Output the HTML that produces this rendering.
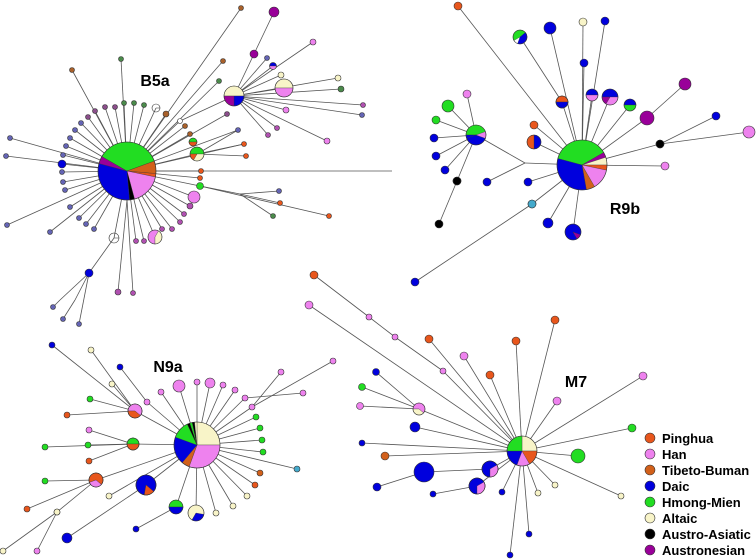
<!DOCTYPE html>
<html><head><meta charset="utf-8"><style>
html,body{margin:0;padding:0;background:#fff;width:756px;height:559px;overflow:hidden}
svg{display:block}
.t{font-family:"Liberation Sans",sans-serif;font-weight:bold;fill:#000}
</style></head><body>
<svg id="s" width="756" height="559" viewBox="0 0 756 559" xmlns="http://www.w3.org/2000/svg">
<g id="E" stroke="#555" stroke-width="0.8" fill="none"></g>
<g id="N" stroke="#333" stroke-width="0.6"></g>
<text class="t" x="155" y="86" font-size="16" text-anchor="middle">B5a</text>
<text class="t" x="625" y="214" font-size="16" text-anchor="middle">R9b</text>
<text class="t" x="168" y="372" font-size="16" text-anchor="middle">N9a</text>
<text class="t" x="576" y="387" font-size="16" text-anchor="middle">M7</text>
<g class="t" font-size="13">
<circle cx="650" cy="438" r="5" fill="#e8561c" stroke="#333" stroke-width="0.6"/><text x="662" y="443">Pinghua</text>
<circle cx="650" cy="454" r="5" fill="#ee82ee" stroke="#333" stroke-width="0.6"/><text x="662" y="459">Han</text>
<circle cx="650" cy="470" r="5" fill="#d2601a" stroke="#333" stroke-width="0.6"/><text x="662" y="475">Tibeto-Buman</text>
<circle cx="650" cy="486" r="5" fill="#0000dd" stroke="#333" stroke-width="0.6"/><text x="662" y="491">Daic</text>
<circle cx="650" cy="502" r="5" fill="#22dd22" stroke="#333" stroke-width="0.6"/><text x="662" y="507">Hmong-Mien</text>
<circle cx="650" cy="518" r="5" fill="#f8f4c8" stroke="#333" stroke-width="0.6"/><text x="662" y="523">Altaic</text>
<circle cx="650" cy="534" r="5" fill="#000" stroke="#333" stroke-width="0.6"/><text x="662" y="539">Austro-Asiatic</text>
<circle cx="650" cy="550" r="5" fill="#990099" stroke="#333" stroke-width="0.6"/><text x="662" y="555">Austronesian</text>
</g>
</svg>
<script>
var C={P:'#e8561c',H:'#ee82ee',T:'#d2601a',D:'#0000dd',M:'#22dd22',L:'#f8f4c8',A:'#000',U:'#990099',C:'#44aacc',
b:'#6464b4',p:'#8a4e8a',g:'#4a8a4a',o:'#a8602a',v:'#b050b0',pk:'#e070d0'};
var E=document.getElementById('E'),N=document.getElementById('N'),NS='http://www.w3.org/2000/svg';
function el(p,t,a){var e=document.createElementNS(NS,t);for(var k in a)e.setAttribute(k,a[k]);p.appendChild(e);return e;}
function L(a,b,c,d){el(E,'line',{x1:a,y1:b,x2:c,y2:d});}
function n(x,y,r,c){if(typeof c=='string'){el(N,'circle',{cx:x,cy:y,r:r,fill:C[c]||c});return;}
 // pie: array of [col,startDeg,endDeg]
 c.forEach(function(s){var a0=s[1]*Math.PI/180,a1=s[2]*Math.PI/180;
 var d='M'+x+','+y+'L'+(x+r*Math.cos(a0))+','+(y+r*Math.sin(a0))+'A'+r+','+r+' 0 '+((s[2]-s[1])>180?1:0)+' 1 '+(x+r*Math.cos(a1))+','+(y+r*Math.sin(a1))+'Z';
 el(N,'path',{d:d,fill:C[s[0]],'stroke-width':0.3});});
 el(N,'circle',{cx:x,cy:y,r:r,fill:'none'});}
function star(cx,cy,list){list.forEach(function(q){L(cx,cy,q[0],q[1]);});list.forEach(function(q){n(q[0],q[1],q[2],q[3]);});}
// ---------- B5a ----------
var bx=127,by=171;
L(bx,by,392,171);
star(bx,by,[[95,111,2.5,'p'],[105,107,2.5,'p'],[115,107,2.5,'p'],[124,103,2.5,'g'],[134,103,2.5,'g'],[144,105,2.5,'g'],[156,108,4,[['M',0,360]]],[166,114,3,'o'],[185,126,2.5,'o'],[190,134,2.5,'o'],
[88,117,2.5,'p'],[81,123,2.5,'b'],[75,130,2.5,'b'],[70,138,2.5,'b'],[66,146,2.5,'b'],[63,155,2.5,'b'],[62,164,4,'D'],[62,172,2.5,'b'],[63,182,2.5,'b'],[65,190,2.5,'b'],[70,207,2.5,'b'],[79,218,2.5,'b'],[86,224,2.5,'b'],[94,229,2.5,'b'],[136,241,2.5,'v'],[144,241,2.5,'v'],
[162,229,2.5,'v'],[172,229,2.5,'v'],[180,222,2.5,'v'],[184,214,2.5,'v'],[190,206,3,'v'],[194,197,6,'H'],[200,178,2.5,'P'],[201,171,2.5,'P'],
[10,138,2.5,'b'],[6,156,2.5,'b'],[7,225,2.5,'b'],[50,232,2.5,'b'],[241,8,2.5,'o'],[223,61,2.5,'o'],[219,81,2.5,'g'],[121,59,2.5,'g'],[72,70,2.5,'o'],[227,114,2.5,'p'],[238,130,2.5,'b'],[244,144,2.5,'P']]);
L(bx,by,155,237);L(155,237,153,232);n(155,237,7,[['H',90,300],['L',300,450]]);
L(bx,by,114,238);L(114,238,89,273);L(89,273,60,300);L(89,273,75,300);L(89,273,79,324);
L(60,300,53,307);L(75,300,63,319);n(114,238,5,[['D',0,360]]);n(89,273,4,'D');n(53,307,2.5,'b');n(63,319,2.5,'b');n(79,324,2.5,'b');
L(127,200,118,292);L(127,200,133,293);n(118,292,3,'v');n(133,293,2.5,'v');
L(bx,by,180,121);L(180,121,234,96);n(180,121,2.5,'#fff');
n(193,142,4,[['M',180,360],['P',0,180]]);
L(bx,by,197,154);L(197,154,238,130);L(197,154,244,144);L(197,154,246,156);
n(197,154,7,[['M',180,360],['L',0,120],['P',120,180]]);n(246,156,2.5,'P');
L(bx,by,200,186);L(200,186,240,194);L(240,194,279,191);L(240,194,280,203);L(240,194,273,216);L(200,186,329,216);
n(200,186,3.5,'M');n(279,191,2.5,'b');n(280,203,2.5,'P');n(273,216,2.5,'g');n(329,216,2.5,'P');
// satellite cluster
star(234,96,[[254,54,4,'U'],[267,58,2.5,'b'],[273,66,3.5,[['D',180,360],['H',0,180]]],[281,75,3,'L'],[338,78,3,'L'],[341,89,3,'g'],[363,105,2.5,'v'],[362,115,2.5,'b'],[286,110,3,'H'],[277,128,2.5,'v'],[268,135,2.5,'v'],[327,141,3,'H'],[313,42,3,'H']]);
L(254,54,274,12);n(274,12,5,'U');
L(234,96,284,88);n(284,88,9,[['L',180,360],['H',0,180]]);
n(234,96,10,[['L',180,360],['D',0,90],['U',90,180]]);
n(bx,by,29,[['P',5,12],['H',12,75],['A',75,85],['D',85,195],['U',195,210],['M',210,340],['T',340,365]]);
// ---------- R9b ----------
var rx=582,ry=165;
star(rx,ry,[[458,6,4,'P'],[562,102,6,[['P',180,360],['D',0,180]]],[550,28,6,'D'],[584,63,4,'D'],[583,22,4,'L'],[605,21,4,'D'],[592,95,6,[['D',180,360],['H',0,180]]],[610,97,8,[['D',180,360],['H',0,120],['U',120,180]]],[630,105,6,[['D',180,360],['M',0,180]]],[647,118,7,'U'],[660,144,4,'A'],[665,166,4,'H'],[534,142,7,[['D',270,450],['P',90,270]]],[534,125,4,'P'],[528,182,4,'D'],[548,223,5,'D'],[573,232,8,[['D',60,400],['U',20,60]]],[532,204,4,'C']]);
L(562,102,520,37);n(520,37,7,[['M',150,400],['D',-40,110]]);n(562,102,6,[['P',180,360],['D',0,180]]);
L(647,118,685,84);n(685,84,6,'U');
L(660,144,716,116);L(660,144,749,132);n(716,116,4,'D');n(749,132,6,'H');n(660,144,4,'A');
L(532,204,415,282);n(415,282,4,'D');n(532,204,4,'C');
L(rx,ry,525,163);L(525,163,487,182);L(525,163,476,135);n(487,182,4,'D');
star(476,135,[[467,94,4,'H'],[448,106,6,'M'],[436,120,4,'M'],[434,138,4,'D'],[436,156,4,'D'],[445,170,4,'D'],[457,181,4,'A']]);
L(457,181,439,224);n(439,224,4,'A');n(457,181,4,'A');
n(476,135,10,[['M',180,360],['D',20,160],['H',-20,20],['D',160,180]]);
n(rx,ry,25,[['M',195,330],['U',330,342],['L',342,360],['P',360,372],['H',372,420],['T',420,440],['D',440,555]]);
// ---------- N9a ----------
var nx=197,ny=445;
star(nx,ny,[[161,392,3,'H'],[179,386,6,'H'],[197,382,3,'H'],[210,383,5,'H'],[223,385,3,'H'],[235,390,3,'H'],[245,398,3,'H'],[252,407,3,'H'],[256,417,3,'M'],[260,428,3,'M'],[262,440,3,'M'],[263,452,3,'M'],[297,469,3,'C'],[260,473,3,'T'],[255,485,3,'P'],[247,496,3,'L'],[233,506,3,'L'],[216,513,3,'L'],[196,513,8,[['L',120,400],['D',10,120]]],[176,507,7,[['M',180,360],['D',0,180]]],[147,402,3,'H'],[135,411,7,[['H',180,400],['P',40,180]]],[133,444,6,[['M',180,360],['P',0,180]]],[96,480,7,[['P',160,400],['H',40,160]]],[109,496,3,'L'],[146,485,10,[['D',100,400],['P',40,100]]]]);
L(252,407,281,372);L(252,407,333,361);L(245,398,303,393);n(281,372,3,'H');n(333,361,3,'H');n(303,393,3,'H');
L(147,402,120,367);n(120,367,3,'D');
[[52,345,'D'],[91,350,'L'],[112,384,'L'],[90,399,'M'],[67,415,'P']].forEach(function(q){L(135,411,q[0],q[1]);n(q[0],q[1],3,q[2]);});
n(135,411,7,[['H',180,400],['P',40,180]]);
[[89,430,'H'],[88,445,'M'],[45,447,'M'],[89,461,'P']].forEach(function(q){L(133,444,q[0],q[1]);n(q[0],q[1],3,q[2]);});
n(133,444,6,[['M',180,360],['P',0,180]]);
[[45,481,'M'],[27,509,'P'],[57,512,'L']].forEach(function(q){L(96,480,q[0],q[1]);n(q[0],q[1],3,q[2]);});
L(57,512,3,551);L(57,512,37,551);n(57,512,3,'L');n(3,551,3,'L');n(37,551,3,'H');
n(96,480,7,[['P',160,400],['H',40,160]]);
L(146,485,67,538);n(67,538,5,'D');L(176,507,136,529);n(136,529,3,'D');n(146,485,10,[['D',100,400],['P',40,100]]);
n(nx,ny,23,[['L',-90,0],['H',0,110],['T',110,130],['D',130,200],['M',200,245],['A',245,252],['M',252,258],['A',258,264],['L',264,270]]);
// ---------- M7 ----------
var mx=522,my=451;
L(mx,my,443,371);L(443,371,395,337);L(395,337,369,317);L(369,317,314,275);n(314,275,4,'P');n(369,317,3,'H');n(395,337,3,'H');n(443,371,3,'H');
L(mx,my,309,305);n(309,305,4,'H');
star(mx,my,[[429,339,4,'P'],[464,356,4,'H'],[490,375,4,'P'],[516,341,4,'P'],[555,320,4,'P'],[557,401,4,'H'],[643,376,4,'H'],[632,428,4,'M'],[578,456,7,'M'],[621,496,3,'L'],[555,485,3,'L'],[538,493,3,'L'],[529,534,3,'D'],[510,555,3,'D'],[502,492,3,'D'],[477,486,8,[['D',90,420],['H',-30,90]]],[490,469,8,[['D',90,420],['H',-30,90]]],[385,456,4,'T'],[362,443,3,'D'],[415,427,5,'D']]);
L(490,469,424,472);L(424,472,377,487);L(477,486,433,494);n(424,472,10,'D');n(377,487,4,'D');n(433,494,3,'D');
L(mx,my,419,409);[[376,372,'D'],[362,387,'M'],[360,406,'H']].forEach(function(q){L(419,409,q[0],q[1]);n(q[0],q[1],3.5,q[2]);});
n(419,409,6,[['H',180,400],['L',40,180]]);
n(477,486,8,[['D',90,420],['H',-30,90]]);n(490,469,8,[['D',90,420],['H',-30,90]]);
n(mx,my,15,[['L',-90,0],['P',0,60],['H',60,110],['D',110,180],['M',180,270]]);
</script>
</body></html>
